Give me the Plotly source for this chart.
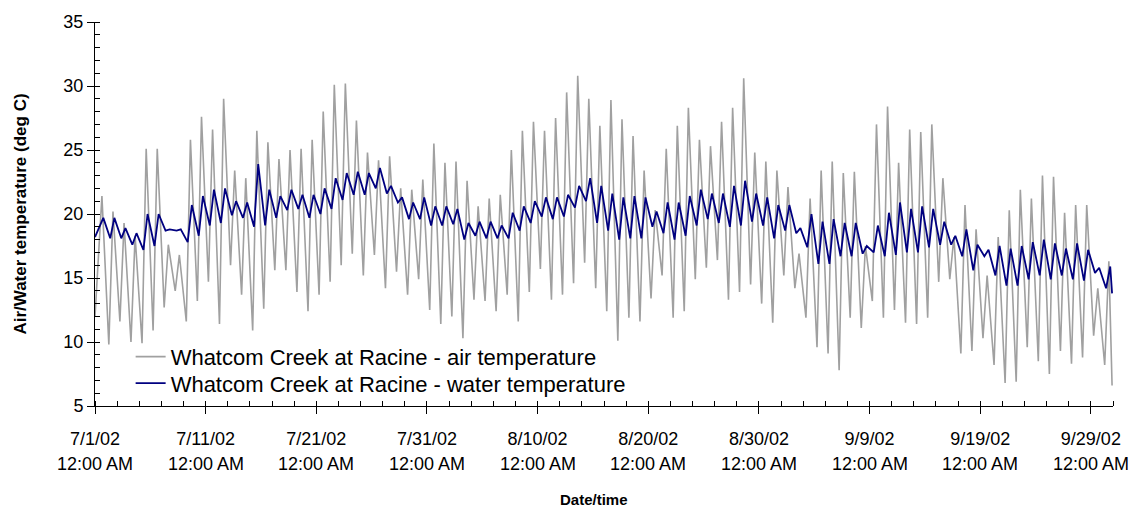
import plotly.graph_objects as go
from datetime import datetime, timedelta

# ---- data (daily morning minimum / afternoon maximum) ----
start = datetime(2002, 7, 1)

air_min = [12.0, 9.8, 11.6, 10.0, 9.9, 10.9, 12.7, 14.0, 11.6, 13.2,
           14.7, 11.4, 16.0, 13.7, 10.9, 12.6, 15.6, 15.6, 13.9, 12.4,
           13.7, 14.7, 16.0, 16.9, 15.2, 16.8, 14.2, 15.5, 13.7, 14.9,
           12.5, 11.4, 12.0, 10.3, 13.3, 13.2, 12.4, 13.7, 11.6, 13.9,
           15.7, 13.3, 13.7, 14.6, 16.2, 14.2, 12.4, 10.1, 11.9, 11.6,
           13.4, 15.2, 11.9, 12.4, 14.9, 15.8, 16.4, 13.3, 13.9, 14.5,
           13.0, 11.5, 15.2, 14.2, 11.9, 9.6, 9.1, 7.8, 11.9, 11.1,
           13.2, 11.9, 12.5, 11.5, 11.4, 11.9, 14.7, 14.9, 9.1, 9.3,
           10.3, 8.2, 6.8, 6.9, 9.6, 8.5, 7.5, 9.3, 8.3, 8.8,
           10.5, 8.2]
air_max = [21.4, 20.2, 19.3, 18.3, 25.1, 25.1, 17.6, 16.8, 25.8, 27.6,
           26.6, 29.0, 23.4, 22.8, 26.5, 25.6, 24.3, 25.0, 25.1, 25.8,
           28.0, 30.1, 30.2, 27.3, 24.8, 24.2, 24.5, 22.0, 21.9, 22.7,
           25.5, 24.0, 24.1, 22.6, 20.6, 21.2, 21.5, 25.0, 26.5, 27.2,
           26.5, 27.5, 29.5, 30.8, 29.0, 26.9, 28.9, 27.4, 26.1, 23.4,
           20.3, 25.1, 26.9, 28.3, 25.8, 25.3, 27.2, 28.3, 30.6, 24.8,
           24.1, 23.4, 22.1, 16.9, 21.2, 23.4, 24.1, 23.2, 23.3, 17.5,
           27.0, 28.4, 24.0, 26.6, 26.4, 27.0, 22.8, 18.2, 20.7, 18.8,
           15.2, 18.2, 20.3, 21.9, 21.2, 23.0, 22.9, 20.1, 20.7, 20.7,
           14.2, 16.3]
water_min = [18.2, 18.1, 18.1, 17.6, 17.2, 17.5, 18.7, 18.7, 17.8, 18.3,
             19.1, 19.3, 19.9, 19.7, 19.0, 19.1, 19.7, 20.3, 20.4, 19.7,
             20.0, 20.4, 21.1, 21.5, 21.5, 22.0, 21.6, 20.9, 19.6, 19.6,
             19.1, 19.1, 19.2, 18.0, 18.3, 18.1, 18.1, 18.1, 18.7, 19.3,
             19.8, 19.6, 19.8, 20.5, 21.0, 19.3, 18.7, 18.0, 18.1, 18.1,
             19.0, 18.5, 18.0, 18.3, 19.1, 19.6, 19.3, 19.0, 19.1, 19.4,
             19.1, 18.1, 18.7, 18.5, 17.4, 16.1, 16.1, 16.7, 16.7, 16.9,
             17.0, 16.7, 16.8, 17.0, 17.0, 17.4, 17.6, 17.6, 16.7, 15.6,
             16.7, 15.2, 14.4, 14.4, 14.9, 15.2, 14.9, 15.2, 14.9, 14.8,
             15.4, 14.2]
water_max = [19.7, 19.7, 18.9, 18.5, 20.0, 20.0, 18.8, 18.8, 20.7, 21.4,
             21.9, 22.0, 21.0, 20.9, 23.9, 21.9, 21.4, 21.9, 21.5, 21.5,
             22.0, 22.8, 23.2, 23.3, 23.2, 23.6, 22.2, 21.3, 20.9, 21.3,
             20.6, 20.6, 20.4, 19.3, 19.4, 19.4, 19.1, 20.1, 20.6, 21.0,
             21.3, 21.3, 21.5, 22.2, 22.8, 22.2, 21.6, 21.3, 21.4, 21.3,
             20.2, 20.9, 20.9, 21.4, 21.9, 21.6, 21.6, 22.2, 22.6, 21.6,
             21.3, 20.7, 20.7, 18.9, 20.0, 19.4, 19.6, 19.3, 19.3, 17.5,
             19.1, 20.1, 20.9, 20.4, 20.6, 20.4, 19.4, 18.3, 18.8, 17.6,
             17.2, 17.5, 17.3, 17.5, 17.8, 18.0, 17.7, 17.3, 17.7, 17.2,
             15.8, 15.9]
air_last = 6.6
water_last = 13.8

tick_dates = ["2002-07-01", "2002-07-11", "2002-07-21", "2002-07-31", "2002-08-10",
              "2002-08-20", "2002-08-30", "2002-09-09", "2002-09-19", "2002-09-29"]
tick_labels = ["7/1/02", "7/11/02", "7/21/02", "7/31/02", "8/10/02",
               "8/20/02", "8/30/02", "9/9/02", "9/19/02", "9/29/02"]
tick_time = "12:00 AM"

air_name = "Whatcom Creek at Racine - air temperature"
water_name = "Whatcom Creek at Racine - water temperature"


def build(mins, maxs, last, h_min, h_max):
    xs, ys = [], []
    for d, (lo, hi) in enumerate(zip(mins, maxs)):
        t_lo = start if d == 0 else start + timedelta(days=d, hours=h_min)
        xs += [t_lo, start + timedelta(days=d, hours=h_max)]
        ys += [lo, hi]
    xs.append(start + timedelta(days=len(maxs) - 1, hours=22))
    ys.append(last)
    return xs, ys


ax, ay = build(air_min, air_max, air_last, 6, 15)
wx, wy = build(water_min, water_max, water_last, 9, 18)

FONT = "Arial, 'Liberation Sans', sans-serif"

fig = go.Figure()
fig.add_trace(go.Scatter(x=ax, y=ay, mode="lines", name=air_name, legend="legend",
                         line=dict(color="#a0a0a0", width=1.6)))
fig.add_trace(go.Scatter(x=wx, y=wy, mode="lines", name=water_name, legend="legend2",
                         line=dict(color="#000080", width=1.8)))

legend_common = dict(xanchor="left", yanchor="middle", bgcolor="rgba(0,0,0,0)",
                     font=dict(size=22, family=FONT, color="black"))

fig.update_layout(
    width=1134, height=508,
    margin=dict(l=95, r=21, t=16, b=102),
    paper_bgcolor="white", plot_bgcolor="white",
    font=dict(family=FONT, color="black", size=18),
    showlegend=True,
    legend=dict(x=0.035, y=0.128, **legend_common),
    legend2=dict(x=0.035, y=0.059, **legend_common),
    xaxis=dict(
        type="date",
        range=[start, start + timedelta(days=92)],
        tickmode="array", tickvals=tick_dates, ticktext=tick_labels,
        ticklabelstandoff=9,
        ticks="outside", ticklen=7, tickcolor="black", tickwidth=1,
        showline=True, linecolor="black", linewidth=1,
        showgrid=False, zeroline=False,
        tickfont=dict(size=18, family=FONT),
        minor=dict(tickmode="linear", tick0="2002-07-01", dtick=2 * 86400000,
                   ticks="inside", ticklen=5, tickcolor="black", showgrid=False),
    ),
    yaxis=dict(
        range=[5, 35], tickmode="linear", tick0=5, dtick=5,
        ticks="outside", ticklen=7, tickcolor="black", tickwidth=1,
        showline=True, linecolor="black", linewidth=1,
        showgrid=False, zeroline=False,
        tickfont=dict(size=18, family=FONT),
        title=dict(text="<b>Air/Water temperature (deg C)</b>",
                   font=dict(size=17, family=FONT), standoff=32),
        minor=dict(tickmode="linear", tick0=5, dtick=1,
                   ticks="inside", ticklen=5, tickcolor="black", showgrid=False),
    ),
)

# second line of each date tick label
for td in tick_dates:
    fig.add_annotation(text=tick_time, x=td, xref="x", yref="paper", y=-0.151,
                       xanchor="center", yanchor="middle", showarrow=False,
                       font=dict(size=18, family=FONT, color="black"))

fig.add_annotation(text="<b>Date/time</b>", xref="paper", yref="paper",
                   x=0.49, y=-0.215, xanchor="center", yanchor="top",
                   showarrow=False, font=dict(size=15, family=FONT))

fig.write_html("out.html", post_script="document.body.style.margin='0';",
               config={"displayModeBar": False})
